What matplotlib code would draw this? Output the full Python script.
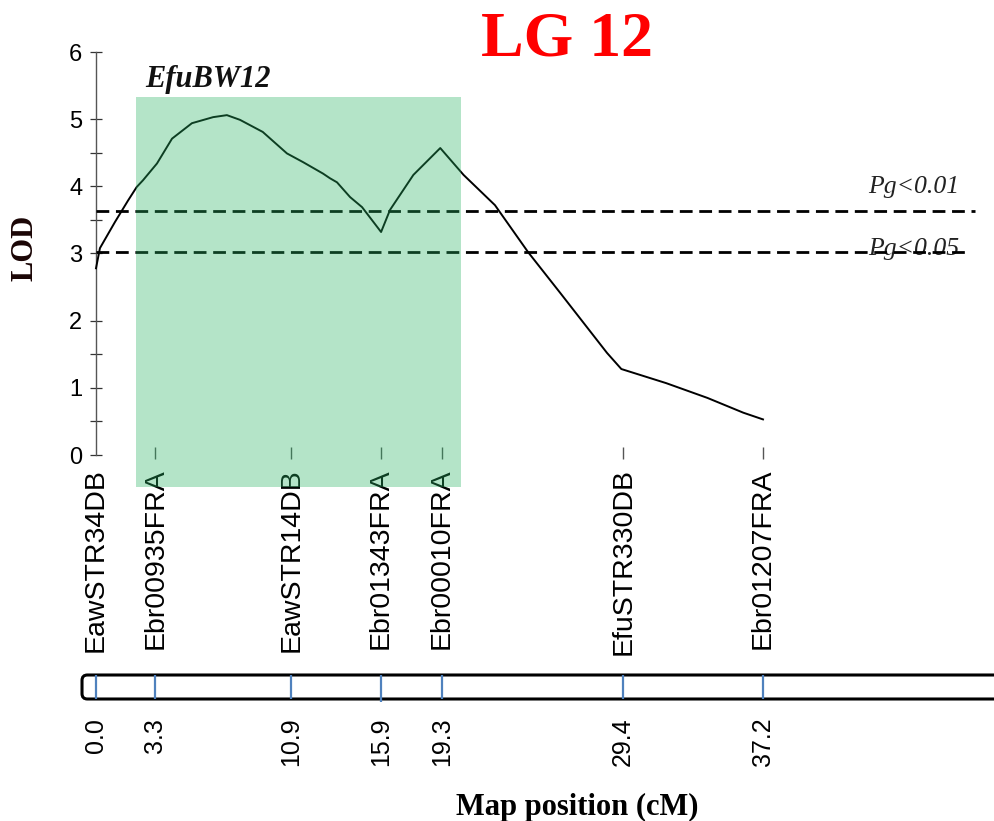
import matplotlib
matplotlib.use("Agg")
import matplotlib.pyplot as plt
from matplotlib.patches import Rectangle, FancyBboxPatch

# ---------------- data ----------------
marker_names = ["EawSTR34DB", "Ebr00935FRA", "EawSTR14DB", "Ebr01343FRA",
                "Ebr00010FRA", "EfuSTR330DB", "Ebr01207FRA"]
marker_pos = [0.0, 3.3, 10.9, 15.9, 19.3, 29.4, 37.2]
pos_labels = ["0.0", "3.3", "10.9", "15.9", "19.3", "29.4", "37.2"]

curve_cm = [0.0, 0.22, 1.06, 1.79, 2.27, 2.62, 3.4, 4.24, 5.35, 6.53, 7.3, 8.03,
            9.3, 10.65, 11.55, 12.66, 13.05, 13.44, 14.17, 14.84, 15.9, 16.4,
            17.7, 19.2, 20.5, 22.25, 24.1, 25.9, 28.5, 29.3, 31.8, 34.1, 36.1, 37.2]
curve_lod = [2.78, 3.08, 3.47, 3.79, 3.99, 4.09, 4.34, 4.71, 4.94, 5.03, 5.06, 4.99,
             4.81, 4.49, 4.36, 4.19, 4.12, 4.06, 3.84, 3.69, 3.32, 3.65,
             4.17, 4.57, 4.17, 3.72, 3.02, 2.41, 1.52, 1.28, 1.07, 0.85, 0.63, 0.53]

thresholds = [3.63, 3.02]
threshold_labels = ["Pg<0.01", "Pg<0.05"]
threshold_ends = [49.0, 48.6]

qtl_name = "EfuBW12"
qtl_start, qtl_end = 2.23, 20.36
qtl_bottom, qtl_top = -0.48, 5.33

title = "LG 12"
# --------------------------------------

W, H = 994, 821
fig = plt.figure(figsize=(W / 100, H / 100), dpi=100)
fig.patch.set_facecolor("white")

px_per_cm = 17.93
x_left = 96
ax_right = 975
xmax = (ax_right - x_left) / px_per_cm

def fx(px):
    return px / W

def fy(py):
    return (H - py) / H

ax = fig.add_axes([fx(x_left), fy(455), (ax_right - x_left) / W, (455 - 52) / H])
ax.set_xlim(0, xmax)
ax.set_ylim(0, 6)
ax.set_facecolor("none")
for s in ["top", "right", "bottom"]:
    ax.spines[s].set_visible(False)
ax.spines["left"].set_color("#555555")
ax.spines["left"].set_linewidth(1.0)

ax.set_yticks([0, 1, 2, 3, 4, 5, 6])
ax.set_yticks([0.5, 1.5, 3.5, 4.5], minor=True)
ax.tick_params(axis="y", which="both", direction="inout", length=8.6, width=0.9,
               color="#333333", pad=5.5)
ax.tick_params(axis="y", which="major", labelsize=17)
for lab in ax.get_yticklabels():
    lab.set_fontfamily("Liberation Sans")

# marker names as x tick labels
ax.set_xticks(marker_pos)
ax.set_xticklabels(marker_names, rotation=90, fontsize=20.5,
                   fontfamily="Liberation Sans", rotation_mode="anchor",
                   ha="right", va="center")
ax.tick_params(axis="x", length=0, pad=9.5)

# small marker ticks
ax.vlines(marker_pos[1:], -0.06, 0.12, color="#555555", lw=1.0, clip_on=False)

# LOD curve
ax.plot(curve_cm, curve_lod, color="black", lw=1.4, zorder=3, clip_on=False)

# thresholds
for t, lab, xe in zip(thresholds, threshold_labels, threshold_ends):
    ax.hlines(t, 0, xe, colors="black", linestyles=(0, (4.6, 2.4)), lw=2.0,
              zorder=3, clip_on=False)
ax.text(43.06, 3.90, threshold_labels[0], fontsize=18.5, fontstyle="italic",
        fontfamily="Liberation Serif", color="#222222", va="baseline", ha="left")
ax.text(43.06, 2.98, threshold_labels[1], fontsize=18.5, fontstyle="italic",
        fontfamily="Liberation Serif", color="#222222", va="baseline", ha="left",
        zorder=2)

# QTL region
rect = Rectangle((qtl_start, qtl_bottom), qtl_end - qtl_start, qtl_top - qtl_bottom,
                 facecolor=(40 / 255, 180 / 255, 100 / 255), alpha=0.35,
                 edgecolor="none", zorder=10, clip_on=False)
ax.add_patch(rect)
ax.text(2.73, 5.48, qtl_name, fontsize=22, fontweight="bold", fontstyle="italic",
        fontfamily="Liberation Serif", color="#111111", va="baseline", ha="left")

# --------- bottom map bar ---------
bax = fig.add_axes([fx(x_left), fy(699), (ax_right - x_left) / W, 24 / H])
bax.set_xlim(0, xmax)
bax.set_ylim(0, 1)
bax.set_facecolor("none")
for s in bax.spines.values():
    s.set_visible(False)
bar_h_px = 24
bar = FancyBboxPatch((-0.78, 0), 80, 1,
                     boxstyle="round,pad=0,rounding_size=0.3",
                     mutation_aspect=px_per_cm / bar_h_px,
                     facecolor="white", edgecolor="black", lw=2.2,
                     clip_on=False, zorder=1)
bax.add_patch(bar)
tick_bottoms = [-0.12 if p == 15.9 else 0.0 for p in marker_pos]
bax.vlines(marker_pos, tick_bottoms, 1.0, colors="#4f81bd", lw=1.6, zorder=2,
           clip_on=False)
bax.set_yticks([])
bax.set_xticks(marker_pos)
bax.set_xticklabels(pos_labels, rotation=90, fontsize=18,
                    fontfamily="Liberation Sans", rotation_mode="anchor",
                    ha="right", va="center")
bax.tick_params(axis="x", length=0, pad=13.5)

# --------- text ---------
fig.text(fx(567), fy(55), title, color="red", fontsize=46, fontweight="bold",
         fontfamily="Liberation Serif", ha="center", va="baseline")
fig.text(fx(25), fy(248), "LOD", fontsize=22, fontweight="bold",
         fontfamily="Liberation Serif", rotation=90, ha="center", va="center",
         color="#1a0505")
fig.text(fx(577), fy(815), "Map position (cM)", fontsize=22, fontweight="bold",
         fontfamily="Liberation Serif", ha="center", va="baseline")

fig.savefig("out.png", dpi=100, facecolor="white")
